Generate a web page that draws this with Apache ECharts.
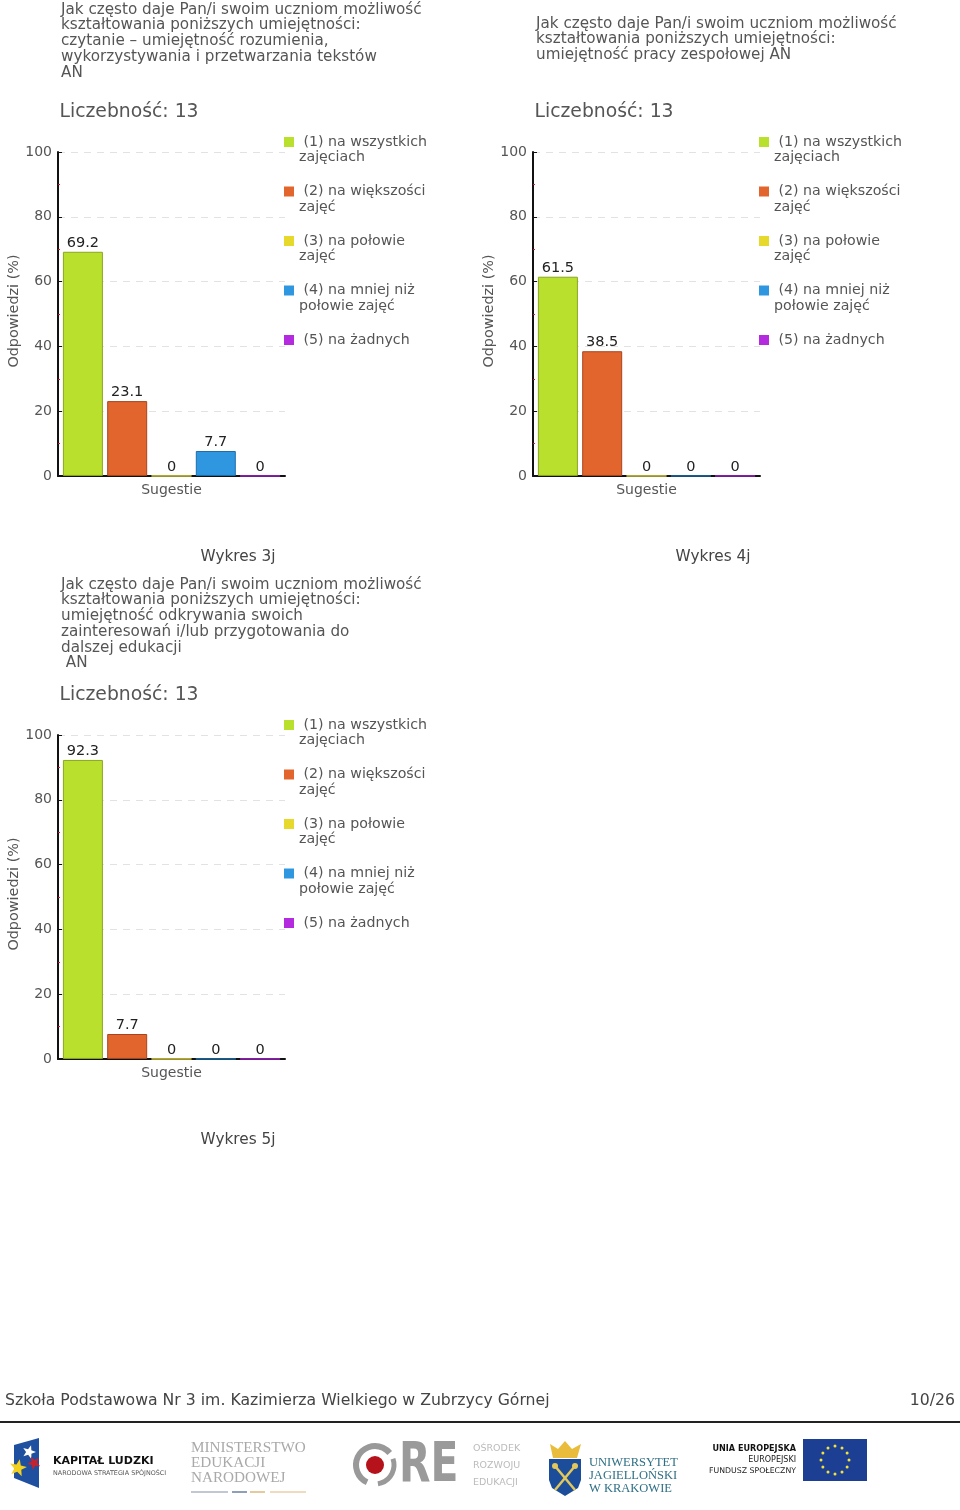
<!DOCTYPE html>
<html>
<head>
<meta charset="utf-8">
<style>html,body{margin:0;padding:0;background:#fff}#c{width:960px;height:1510px}</style>
<script src="https://cdn.jsdelivr.net/npm/echarts@6/dist/echarts.min.js"></script>
</head>
<body>
<div id="c"></div>
<script>
var categories = ['Sugestie'];
var seriesNames = ['(1) na wszystkich zajęciach','(2) na większości zajęć','(3) na połowie zajęć','(4) na mniej niż połowie zajęć','(5) na żadnych'];
var legendTexts = ['\n (1) na wszystkich\nzajęciach','\n (2) na większości\nzajęć','\n (3) na połowie\nzajęć','\n (4) na mniej niż\npołowie zajęć','\n (5) na żadnych\n '];
var values3j = [69.2, 23.1, 0, 7.7, 0];
var values4j = [61.5, 38.5, 0, 0, 0];
var values5j = [92.3, 7.7, 0, 0, 0];
var colors = ['#b9e02c','#e2652d','#e6d92b','#2e97e0','#b42adf'];
var borders = ['#8aa61f','#a8441c','#d8cc40','#1f6ea8','#a024c8'];
var title3j = 'Jak często daje Pan/i swoim uczniom możliwość\nkształtowania poniższych umiejętności:\nczytanie – umiejętność rozumienia,\nwykorzystywania i przetwarzania tekstów\nAN';
var title4j = 'Jak często daje Pan/i swoim uczniom możliwość\nkształtowania poniższych umiejętności:\numiejętność pracy zespołowej AN';
var title5j = 'Jak często daje Pan/i swoim uczniom możliwość\nkształtowania poniższych umiejętności:\numiejętność odkrywania swoich\nzainteresowań i/lub przygotowania do\ndalszej edukacji\n AN';
var countLabel = 'Liczebność: 13';
var yAxisName = 'Odpowiedzi (%)';
var captions = ['Wykres 3j','Wykres 4j','Wykres 5j'];
var footerLeft = 'Szkoła Podstawowa Nr 3 im. Kazimierza Wielkiego w Zubrzycy Górnej';
var footerRight = '10/26';

var FONT = '"DejaVu Sans", Verdana, sans-serif';
var SERIF = '"Liberation Serif", serif';
var GREY = '#555';
var charts = [
  {x:58,  y:152, values:values3j, title:title3j, tx:61,  ty:2,   cy:103, cap:238, capY:550},
  {x:533, y:152, values:values4j, title:title4j, tx:536, ty:16,  cy:103, cap:713, capY:550},
  {x:58,  y:735, values:values5j, title:title5j, tx:61,  ty:577, cy:686, cap:238, capY:1133}
];
var option = {animation:false, backgroundColor:'#fff', title:[], grid:[], xAxis:[], yAxis:[], legend:[], series:[], graphic:[]};

charts.forEach(function(c,i){
  var titleStyle = {fontFamily:FONT,fontSize:15.2,fontWeight:'normal',color:GREY,lineHeight:15.7};
  option.title.push({text:c.title,left:c.tx,top:c.ty,padding:0,textStyle:titleStyle});
  option.title.push({text:countLabel,left:c.x+1.5,top:c.cy,padding:0,textStyle:{fontFamily:FONT,fontSize:18.8,fontWeight:'normal',color:GREY}});
  option.title.push({text:captions[i],left:c.cap,top:c.capY,padding:0,textAlign:'center',textStyle:{fontFamily:FONT,fontSize:15.3,fontWeight:'normal',color:'#444'}});
  // axes grid
  option.grid.push({left:c.x,top:c.y,width:227,height:324});
  option.xAxis.push({type:'category',gridIndex:2*i,data:categories,
    axisLine:{lineStyle:{color:'#111',width:2}},
    axisTick:{alignWithLabel:true,length:4,lineStyle:{color:'#111'}},
    axisLabel:{fontFamily:FONT,fontSize:14,color:GREY,margin:7}});
  option.yAxis.push({type:'value',gridIndex:2*i,min:0,max:100,interval:20,
    name:yAxisName,nameLocation:'middle',nameGap:37,
    nameTextStyle:{fontFamily:FONT,fontSize:14.4,color:GREY,padding:[0,0,0,6]},
    axisLine:{show:true,onZero:false,lineStyle:{color:'#111',width:2}},
    axisTick:{show:true,inside:true,length:4,lineStyle:{color:'#111'}},
    minorTick:{show:true,splitNumber:2,length:2,lineStyle:{color:'#c02030'}},
    splitLine:{show:true,lineStyle:{color:'#e2e2e2',type:[7,6],width:1}},
    axisLabel:{fontFamily:FONT,fontSize:14,color:GREY,margin:6,padding:[5,0,0,0]}});
  // bars grid: bars rest 2px above the drawn baseline
  option.grid.push({left:c.x,top:c.y,width:227,height:322});
  option.xAxis.push({type:'category',gridIndex:2*i+1,data:categories,show:false});
  option.yAxis.push({type:'value',gridIndex:2*i+1,min:0.6,max:100,show:false,splitLine:{show:false}});
  seriesNames.forEach(function(n,k){
    option.series.push({type:'bar',name:n,xAxisIndex:2*i+1,yAxisIndex:2*i+1,clip:false,
      data:[c.values[k]],barWidth:40,barGap:'10.75%',
      itemStyle:{color:colors[k],borderColor:borders[k],borderWidth:1},
      label:{show:true,position:'top',distance:1,fontFamily:FONT,fontSize:14.5,color:'#222'}});
  });
  option.legend.push({left:c.x+226,top:c.y-33.25,orient:'vertical',padding:0,itemWidth:10,itemHeight:10,itemGap:3,
    selectedMode:false,data:seriesNames,icon:'rect',
    itemStyle:{borderWidth:0},
    formatter:function(n){return legendTexts[seriesNames.indexOf(n)];},
    textStyle:{fontFamily:FONT,fontSize:14.2,color:GREY,lineHeight:15.5}});
});

option.title.push({text:footerLeft,left:5,top:1393,padding:0,textStyle:{fontFamily:FONT,fontSize:15.7,fontWeight:'normal',color:'#444'}});
option.title.push({text:footerRight,right:5,top:1393,padding:0,textStyle:{fontFamily:FONT,fontSize:15.7,fontWeight:'normal',color:'#444'}});

// footer rule and logos
function star(cx,cy,r,rot){var p=[];for(var j=0;j<10;j++){var a=rot+j*Math.PI/5,q=j%2?r*0.42:r;p.push([cx+q*Math.sin(a),cy-q*Math.cos(a)]);}return p;}
function T(t,x,y,size,fill,fam,weight,align){return {type:'text',style:{text:t,x:x,y:y,fontSize:size,fill:fill,fontFamily:fam||FONT,fontWeight:weight||'normal',align:align||'left',verticalAlign:'middle'}};}
function P(pts,fill){return {type:'polygon',shape:{points:pts},style:{fill:fill}};}
function L(a,b,c,d,col,w){return {type:'line',shape:{x1:a,y1:b,x2:c,y2:d},style:{stroke:col,lineWidth:w}};}
var g = [
  {type:'rect',shape:{x:0,y:1421,width:960,height:2},style:{fill:'#222'}},
  // Kapitał Ludzki
  P([[14,1445],[39,1438],[39,1488],[14,1478]],'#1f4f9f'),
  P(star(29,1452,7,0.3),'#fff'),
  P(star(18,1468,9,0.2),'#f2d21e'),
  P(star(34,1463,7,0.8),'#c3232f'),
  T('KAPITAŁ LUDZKI',53,1461.5,11,'#111',FONT,'bold'),
  T('NARODOWA STRATEGIA SPÓJNOŚCI',53,1473,6.4,'#555'),
  // MEN
  T('MINISTERSTWO',191,1448,15.2,'#a9a9a9',SERIF),
  T('EDUKACJI',191,1463,15.2,'#a9a9a9',SERIF),
  T('NARODOWEJ',191,1478,15.2,'#a9a9a9',SERIF),
  L(191,1492,228,1492,'#aab6c6',1.5),
  L(232,1492,247,1492,'#8f9fb5',2),
  L(250,1492,265,1492,'#e7c9a0',2),
  L(270,1492,306,1492,'#eccfa8',1.5),
  // ORE
  {type:'arc',shape:{cx:375,cy:1465,r:19,startAngle:2.0,endAngle:5.6},style:{stroke:'#999',fill:'none',lineWidth:6}},
  {type:'arc',shape:{cx:375,cy:1465,r:19,startAngle:5.95,endAngle:7.7},style:{stroke:'#999',fill:'none',lineWidth:5}},
  {type:'circle',shape:{cx:375,cy:1465,r:9},style:{fill:'#b5121b'}},
  {type:'text',x:399,y:1466,scaleX:0.73,style:{text:'RE',x:0,y:0,fontSize:56,fill:'#9a9a9a',fontFamily:FONT,fontWeight:'bold',align:'left',verticalAlign:'middle'}},
  T('OŚRODEK',473,1449,9.5,'#bbb'),
  T('ROZWOJU',473,1466,9.5,'#bbb'),
  T('EDUKACJI',473,1483,9.5,'#bbb'),
  // UJ
  P([[550,1444],[558,1449],[565,1441],[572,1449],[581,1444],[577,1458],[553,1458]],'#e9bd3b'),
  P([[549,1459],[581,1459],[581,1480],[578,1488],[565,1496],[552,1488],[549,1480]],'#1b4d9b'),
  L(555,1466,575,1490,'#e2c75a',2.5),
  L(575,1466,555,1490,'#e2c75a',2.5),
  {type:'circle',shape:{cx:555,cy:1466,r:3},style:{fill:'#e2c75a'}},
  {type:'circle',shape:{cx:575,cy:1466,r:3},style:{fill:'#e2c75a'}},
  T('UNIWERSYTET',589,1463,12.5,'#2f6f85',SERIF),
  T('JAGIELLOŃSKI',589,1475.5,12.5,'#2f6f85',SERIF),
  T('W KRAKOWIE',589,1488.5,12.5,'#2f6f85',SERIF),
  // EU
  T('UNIA EUROPEJSKA',796,1449,8.1,'#111',FONT,'bold','right'),
  T('EUROPEJSKI',796,1460,8,'#222',FONT,'normal','right'),
  T('FUNDUSZ SPOŁECZNY',796,1471,7.8,'#222',FONT,'normal','right'),
  {type:'rect',shape:{x:803,y:1439,width:64,height:42},style:{fill:'#1c3f94'}}
];
for(var s=0;s<12;s++){var a=s*Math.PI/6;g.push({type:'circle',shape:{cx:835+14*Math.sin(a),cy:1460-14*Math.cos(a),r:1.5},style:{fill:'#f2e23a'}});}
option.graphic = {elements:g};

echarts.init(document.getElementById('c'),null,{renderer:'canvas'}).setOption(option);
</script>
</body>
</html>
